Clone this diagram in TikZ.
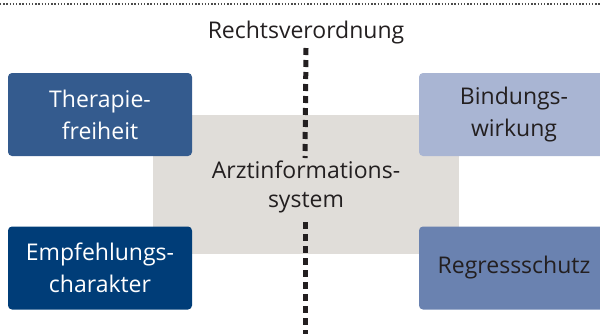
\documentclass[tikz,border=0pt]{standalone}
\usepackage{fontspec}
\setmainfont{Open Sans}
\begin{document}
\begin{tikzpicture}[x=1pt,y=-1pt]
\definecolor{cA}{HTML}{345B8E}
\definecolor{cB}{HTML}{A9B5D3}
\definecolor{cC}{HTML}{003D78}
\definecolor{cD}{HTML}{6A82B0}
\definecolor{cG}{HTML}{E0DDD9}
\definecolor{cT}{HTML}{231F20}
\tikzset{
  txt/.style={font=\fontsize{23}{32}\selectfont},
  box/.style={rounded corners=4pt, minimum width=184pt, minimum height=83pt, inner sep=0pt, align=center, txt},
  darkbox/.style={box, text=white},
  lightbox/.style={box, text=cT},
  dashline/.style={line width=5pt, dash pattern=on 7pt off 5pt, color=cT}
}
\useasboundingbox (0,0) rectangle (600,333);
\draw[black!70, line width=1.3pt, dash pattern=on 1.3pt off 1.9pt] (0,4) -- (600,4);
\node[fill=cG, minimum width=306pt, minimum height=139pt, inner sep=0pt] (grey) at (305.5,184) {};
\node[text=cT, txt, anchor=base] (title) at (306,38) {Rechtsverordnung};
\node[fill=cA, darkbox] (thf) at (100,114.5) {Therapie-\\freiheit};
\node[fill=cB, lightbox, minimum width=190pt] (bw) at (514,114.5) {Bindungs-\\wirkung};
\node[fill=cC, darkbox] (emp) at (100,268) {Empfehlungs-\\charakter};
\node[fill=cD, lightbox, minimum width=190pt] (reg) at (514,268) {Regressschutz};
\node[text=cT, align=center, font=\fontsize{23}{29}\selectfont, inner sep=0pt] (azi) at (306,187) {Arztinformations-\\system};
\coordinate (c1) at (305,158);
\coordinate (c2) at (305,222);
\coordinate (c3) at (305,336);
\draw[dashline] (title.south |- 0,48) -- (c1);
\draw[dashline] (c2) -- (c3);
\end{tikzpicture}
\end{document}
